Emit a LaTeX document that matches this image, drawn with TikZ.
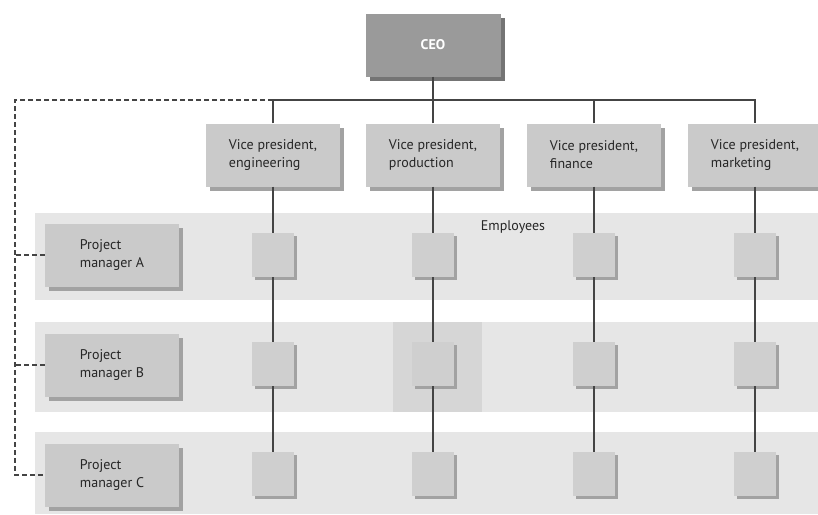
\documentclass[tikz,border=0pt]{standalone}
\usepackage{fontspec}
\setmainfont{PT Sans}
\usepackage{tikz}
\usetikzlibrary{shadows,positioning}
\definecolor{boxgray}{HTML}{CACACA}
\definecolor{boxshade}{HTML}{A2A2A2}
\definecolor{ceogray}{HTML}{9A9A9A}
\definecolor{ceoshade}{HTML}{747474}
\definecolor{bandgray}{HTML}{E6E6E6}
\definecolor{bandmark}{HTML}{D6D6D6}
\definecolor{linegray}{HTML}{444444}
\definecolor{textgray}{HTML}{262626}
\tikzstyle{line}=[draw=linegray,line width=1.6pt]
\tikzstyle{dline}=[draw=linegray,line width=1.6pt,dash pattern=on 5pt off 3pt]
\tikzstyle{box}=[fill=boxgray,text=textgray,align=left,minimum width=134pt,minimum height=63pt,inner sep=0pt,drop shadow={shadow xshift=4pt,shadow yshift=-4pt,fill=boxshade,opacity=1}]
\tikzstyle{ceobox}=[fill=ceogray,text=white,minimum width=135pt,minimum height=63pt,inner sep=0pt,drop shadow={shadow xshift=4pt,shadow yshift=-4pt,fill=ceoshade,opacity=1}]
\tikzstyle{emp}=[fill=boxgray!90,minimum width=42pt,minimum height=44pt,inner sep=0pt,drop shadow={shadow xshift=3pt,shadow yshift=-3pt,fill=boxshade,opacity=1}]

\begin{document}
\begin{tikzpicture}[x=1pt,y=-1pt,font=\fontsize{14}{18}\selectfont,band/.style={fill=bandgray}]
\useasboundingbox[fill=white] (0,0) rectangle (818,514);
\fill[band] (35,213) rectangle (818,300);
\fill[band] (35,322) rectangle (818,412);
\fill[bandmark] (393,322) rectangle (482,412);
\fill[band] (35,432) rectangle (818,514);
\node[ceobox](ceo) at (433,45){\bfseries CEO};
\node[box](vpeng) at (273,155){Vice president,\\engineering};
\node[box](vpprod) at (433,155){Vice president,\\production};
\node[box](vpfin) at (594,155){Vice president,\\finance};
\node[box](vpmkt) at (755,155){Vice president,\\marketing};
\node[box](pma) at (112,255){Project\\manager A};
\node[box](pmb) at (112,365){Project\\manager B};
\node[box](pmc) at (112,475){Project\\manager C};
\node[text=textgray](emplabel) at (513,227){Employees};
\node[emp](a1) at (273,255){};
\node[emp](a2) at (433,255){};
\node[emp](a3) at (594,255){};
\node[emp](a4) at (755,255){};
\node[emp](b1) at (273,364){};
\node[emp](b2) at (433,364){};
\node[emp](b3) at (594,364){};
\node[emp](b4) at (755,364){};
\node[emp](c1) at (273,474){};
\node[emp](c2) at (433,474){};
\node[emp](c3) at (594,474){};
\node[emp](c4) at (755,474){};
\coordinate (bus) at (433,100);
\coordinate (corner) at (15,100);
\draw[line] (ceo.south) -- (bus);
\draw[line] (vpeng.north) |- (vpmkt.north |- bus) -- (vpmkt.north);
\draw[line] (vpprod.north) -- (vpprod.north |- bus);
\draw[line] (vpfin.north) -- (vpfin.north |- bus);
\draw[dline] (vpeng.north |- bus) -- (corner) |- (pmc.west);
\draw[dline] (pma.west) -- (pma.west -| corner);
\draw[dline] (pmb.west) -- (pmb.west -| corner);
\draw[line] (vpeng.south) -- (a1.north);
\draw[line] (a1.south) -- (b1.north);
\draw[line] (b1.south) -- (c1.north);
\draw[line] (vpprod.south) -- (a2.north);
\draw[line] (a2.south) -- (b2.north);
\draw[line] (b2.south) -- (c2.north);
\draw[line] (vpfin.south) -- (a3.north);
\draw[line] (a3.south) -- (b3.north);
\draw[line] (b3.south) -- (c3.north);
\draw[line] (vpmkt.south) -- (a4.north);
\draw[line] (a4.south) -- (b4.north);
\draw[line] (b4.south) -- (c4.north);
\end{tikzpicture}
\end{document}
